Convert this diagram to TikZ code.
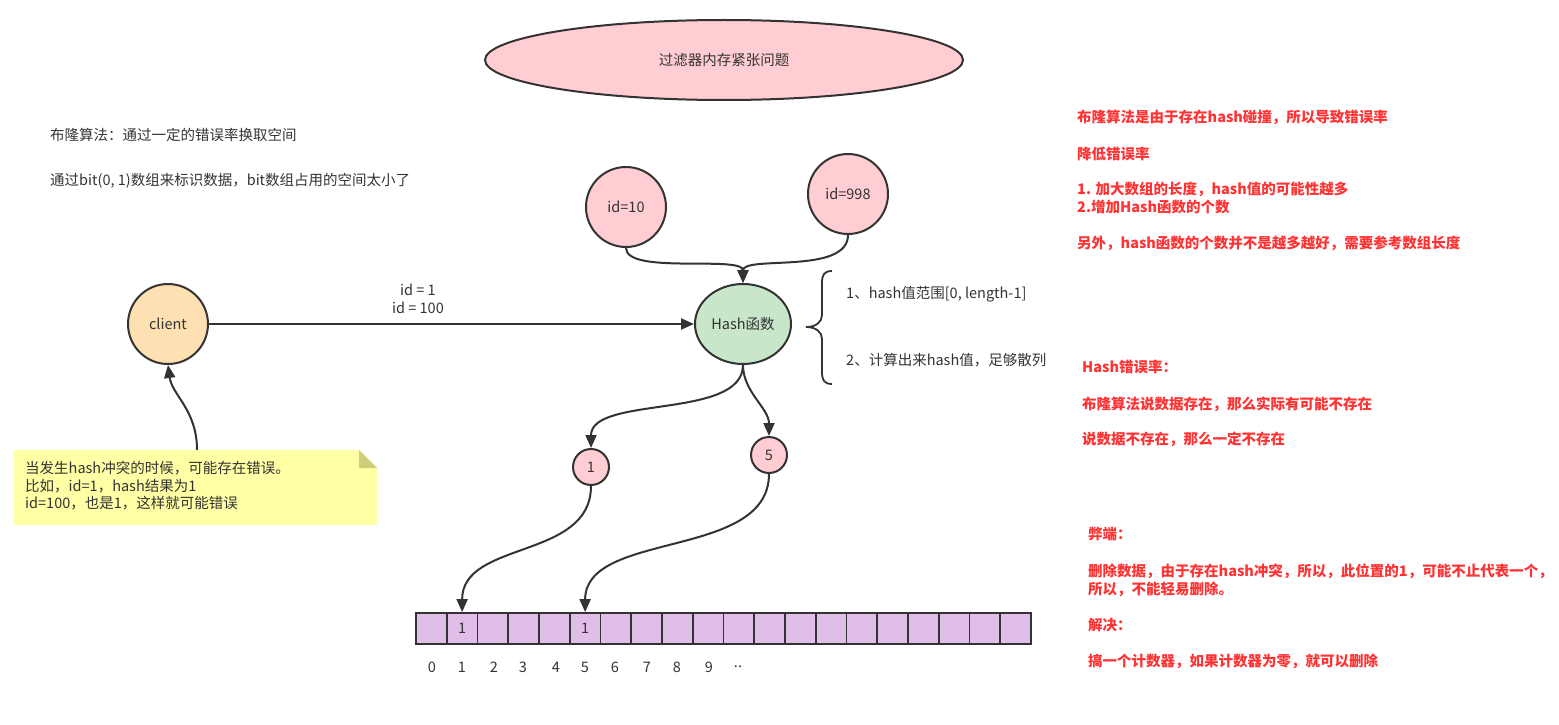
\documentclass[tikz,border=0pt]{standalone}
\usepackage{fontspec}
\setmainfont{Noto Sans CJK SC}
\usetikzlibrary{arrows.meta,shapes.geometric}
\definecolor{ink}{HTML}{333333}
\definecolor{redt}{HTML}{FF3333}
\definecolor{pinkf}{HTML}{FFCDD2}
\definecolor{orangef}{HTML}{FFE0B2}
\definecolor{greenf}{HTML}{C8E6C9}
\definecolor{purplef}{HTML}{E1BEE7}
\definecolor{notef}{HTML}{FFFFA6}
\definecolor{foldf}{HTML}{CDCD7A}
\begin{document}
\begin{tikzpicture}[x=1pt,y=-1pt,
  font=\fontsize{14.5}{17.5}\selectfont,
  circ/.style={circle,draw=ink,line width=2pt,minimum size=80pt,inner sep=0pt,text=ink},
  smallcirc/.style={circle,draw=ink,line width=2pt,minimum size=36pt,inner sep=0pt,text=ink,fill=pinkf},
  cell/.style={rectangle,draw=ink,line width=1.8pt,fill=purplef,minimum width=30.75pt,minimum height=31pt,inner sep=0pt,text=ink},
  txt/.style={anchor=west,inner sep=0pt,text=ink},
  redtxt/.style={anchor=west,inner sep=0pt,text=redt,font=\fontsize{14.5}{17.5}\selectfont\bfseries},
  conn/.style={draw=ink,line width=2pt,-{Triangle[length=13pt,width=11pt]}}]
\useasboundingbox (0,0) rectangle (1559,725);

% title
\node[ellipse,draw=ink,line width=2pt,fill=pinkf,minimum width=478pt,minimum height=80pt,text=ink] (title) at (724,60) {过滤器内存紧张问题};

% left texts
\node[txt] (t1) at (50,135) {布隆算法：通过一定的错误率换取空间};
\node[txt] (t2) at (50,181) {通过bit(0, 1)数组来标识数据，bit数组占用的空间太小了};

% main nodes
\node[circ,fill=orangef] (client) at (168,324) {client};
\node[ellipse,draw=ink,line width=2pt,fill=greenf,minimum width=96pt,minimum height=80pt,inner sep=0pt,text=ink] (hash) at (743,324) {Hash函数};
\node[circ,fill=pinkf] (id10) at (626,207) {id=10};
\node[circ,fill=pinkf] (id998) at (848,194) {id=998};
\node[smallcirc] (one) at (591,467) {1};
\node[smallcirc] (five) at (769,455) {5};

% array
\foreach \i in {0,...,19} {
  \node[cell] (c\i) at ({431.4+30.75*\i},628.5) {};
}
\node[text=ink] at (c1) {1};
\node[text=ink] at (c5) {1};
\foreach \lab/\xx in {0/432,1/462,2/494,3/523,4/556,5/585,6/615,7/647,8/677,9/709,../738} {
  \node[text=ink,inner sep=0pt] (ix\xx) at (\xx,667) {\lab};
}

% connectors
\draw[conn] (client.east) -- (hash.west);
\node[text=ink,align=center,inner sep=0pt] (lbl) at (418,299) {id = 1\\id = 100};
\draw[conn] (id10.south) .. controls (626,275) and (743,255) .. (hash.north);
\draw[conn] (id998.south) .. controls (848,275) and (743,255) .. (hash.north);
\draw[conn] (hash.south) .. controls (743,420) and (591,395) .. (one.north);
\draw[conn] (hash.south) .. controls (743,392) and (769,408) .. (five.north);
\draw[conn] (one.south) .. controls (591,560) and (462,540) .. (c1.north);
\draw[conn] (five.south) .. controls (769,560) and (585,530) .. (c5.north);

% brace
\draw[ink,line width=1.8pt] (832,271) .. controls (824,271) and (822,275) .. (822,283) -- (822,315)
  .. controls (822,322) and (816,327) .. (806,327)
  .. controls (816,327) and (822,332) .. (822,339) -- (822,372)
  .. controls (822,380) and (824,384) .. (832,384);
\node[txt] (b1) at (846,294) {1、hash值范围[0, length-1]};
\node[txt] (b2) at (846,360) {2、计算出来hash值，足够散列};

% note
\node[rectangle,fill=notef,minimum width=363pt,minimum height=75pt,inner sep=0pt] (note) at (195.5,487.5) {};
\fill[white] (359,449.5) -- (377.5,449.5) -- (377.5,468) -- cycle;
\fill[foldf] (359,450) -- (359,468) -- (377,468) -- cycle;
\node[txt,align=left,anchor=west] (notetxt) at (25,486) {当发生hash冲突的时候，可能存在错误。\\比如，id=1，hash结果为1\\id=100，也是1，这样就可能错误};
\draw[conn] ([xshift=1.5pt]note.north) .. controls (197,410) and (172,395) .. (client.south);

% red texts
\node[redtxt] (r1) at (1077,117) {布隆算法是由于存在hash碰撞，所以导致错误率};
\node[redtxt] (r2) at (1077,154) {降低错误率};
\node[redtxt] (r3) at (1077,189) {1. 加大数组的长度，hash值的可能性越多};
\node[redtxt] (r4) at (1077,207) {2.增加Hash函数的个数};
\node[redtxt] (r5) at (1077,243) {另外，hash函数的个数并不是越多越好，需要参考数组长度};
\node[redtxt] (r6) at (1082,367) {Hash错误率：};
\node[redtxt] (r7) at (1082,404) {布隆算法说数据存在，那么实际有可能不存在};
\node[redtxt] (r8) at (1082,439) {说数据不存在，那么一定不存在};
\node[redtxt] (r9) at (1088,534) {弊端：};
\node[redtxt] (r10) at (1088,571) {删除数据，由于存在hash冲突，所以，此位置的1，可能不止代表一个，};
\node[redtxt] (r11) at (1088,589) {所以，不能轻易删除。};
\node[redtxt] (r12) at (1088,625) {解决：};
\node[redtxt] (r13) at (1088,661) {搞一个计数器，如果计数器为零，就可以删除};
\end{tikzpicture}
\end{document}
